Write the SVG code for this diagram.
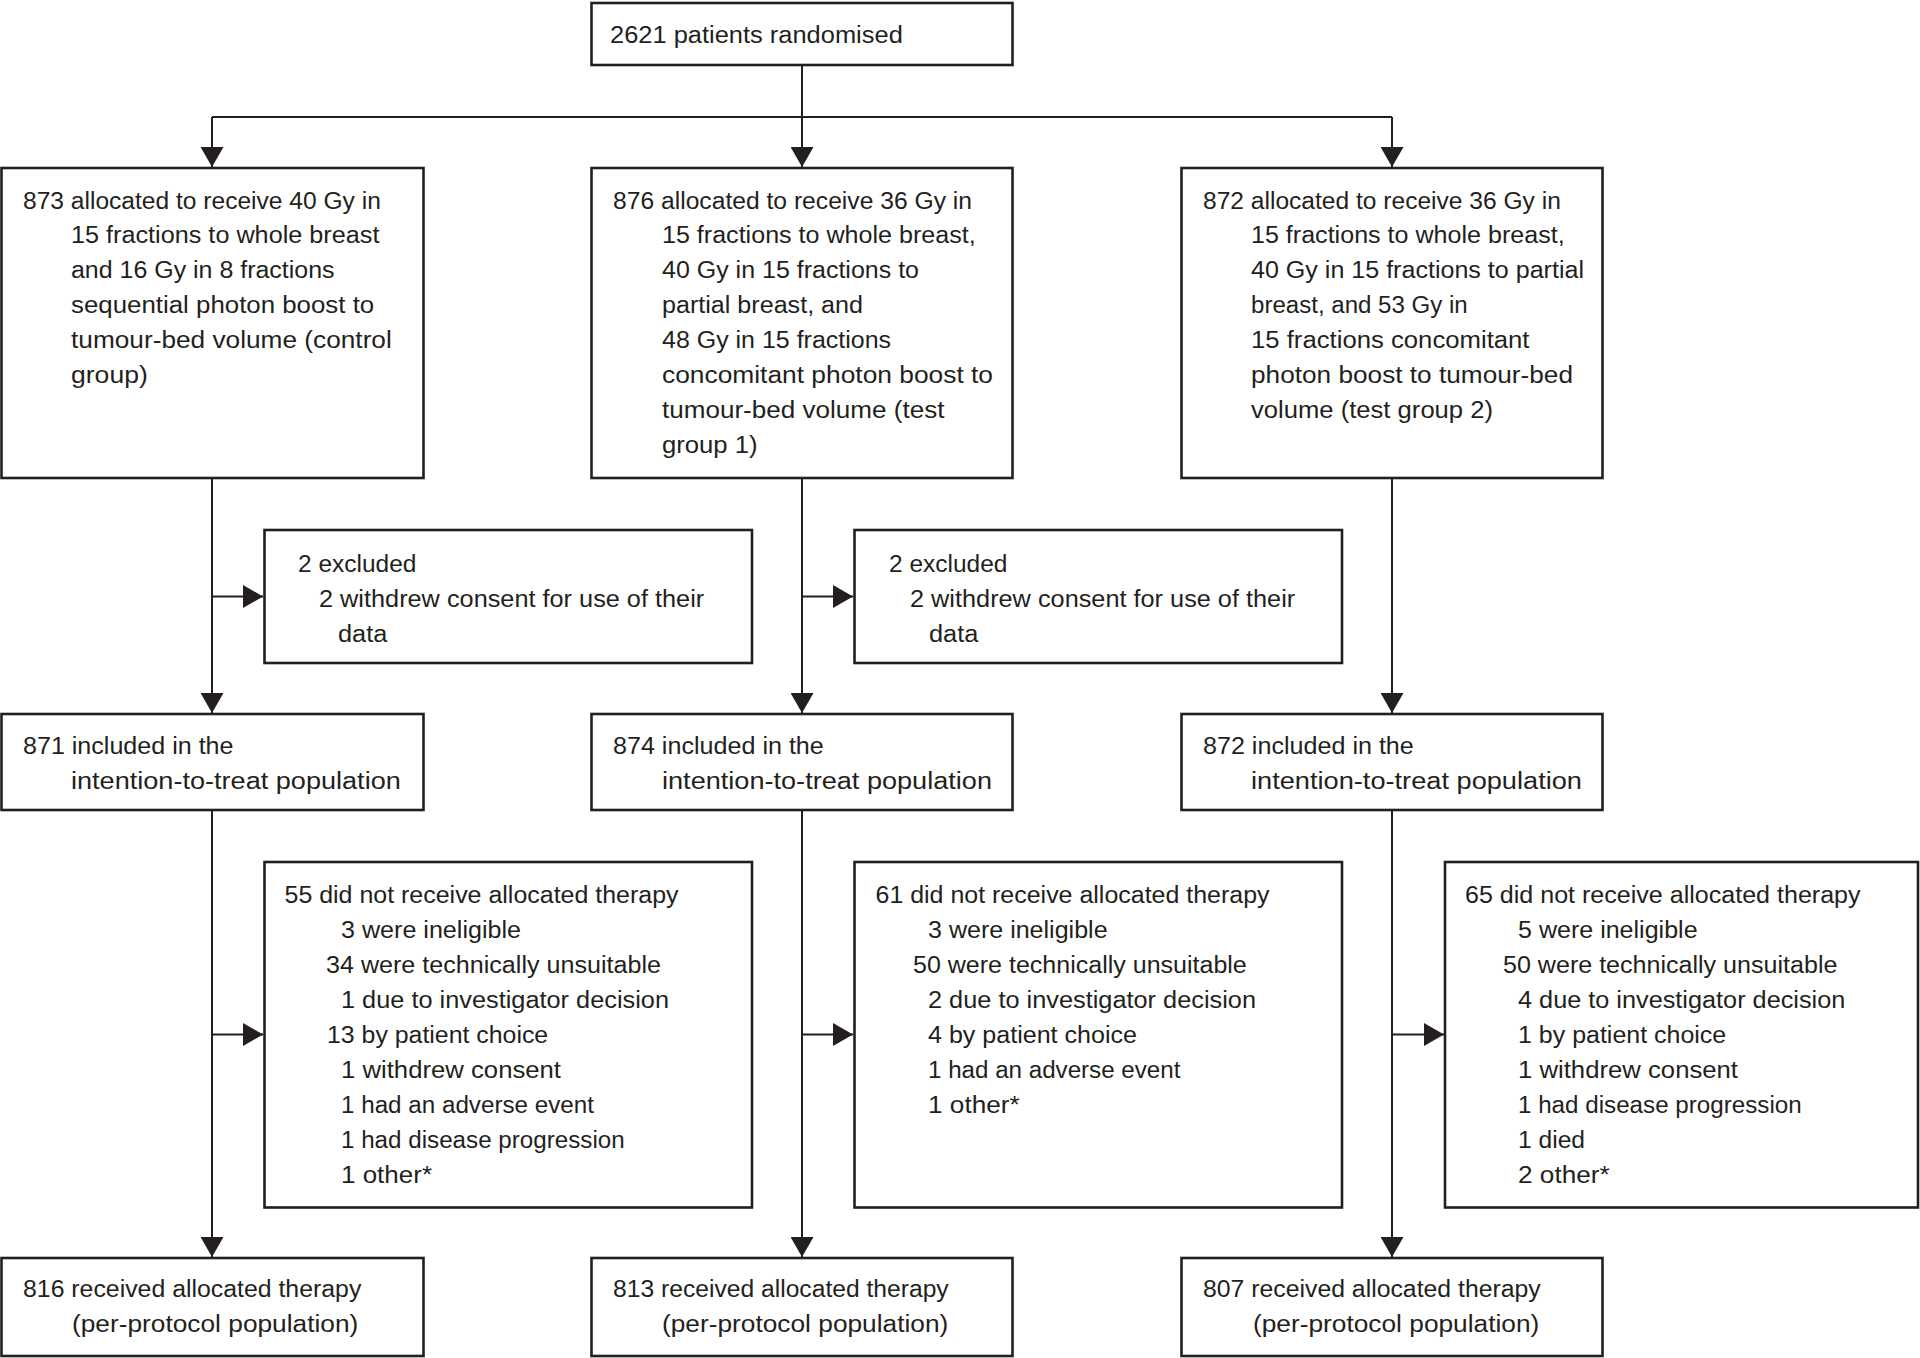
<svg xmlns="http://www.w3.org/2000/svg" width="1920" height="1358" viewBox="0 0 1920 1358">
<style>
.box{fill:#fff;stroke:#231f20;stroke-width:2.6}
.t{font-family:"Liberation Sans",Arial,sans-serif;font-size:24.7px;fill:#231f20}
.c{fill:none;stroke:#231f20;stroke-width:2}
</style>
<defs>
<marker id="ah" markerUnits="userSpaceOnUse" markerWidth="20" markerHeight="23" refX="20" refY="11.5" orient="auto">
<path d="M0,0 L20,11.5 L0,23 z" fill="#231f20"/>
</marker>
</defs>
<rect width="1920" height="1358" fill="#fff"/>
<g id="connectors">
<path class="c" d="M802,65 V117"/>
<path class="c" d="M212,117 H1392"/>
<path class="c" d="M212,117 V167" marker-end="url(#ah)"/>
<path class="c" d="M802,117 V167" marker-end="url(#ah)"/>
<path class="c" d="M1392,117 V167" marker-end="url(#ah)"/>
<path class="c" d="M212,478 V713" marker-end="url(#ah)"/>
<path class="c" d="M802,478 V713" marker-end="url(#ah)"/>
<path class="c" d="M1392,478 V713" marker-end="url(#ah)"/>
<path class="c" d="M212,596.5 H263" marker-end="url(#ah)"/>
<path class="c" d="M802,596.5 H853" marker-end="url(#ah)"/>
<path class="c" d="M212,810 V1257" marker-end="url(#ah)"/>
<path class="c" d="M802,810 V1257" marker-end="url(#ah)"/>
<path class="c" d="M1392,810 V1257" marker-end="url(#ah)"/>
<path class="c" d="M212,1034.5 H263" marker-end="url(#ah)"/>
<path class="c" d="M802,1034.5 H853" marker-end="url(#ah)"/>
<path class="c" d="M1392,1034.5 H1444" marker-end="url(#ah)"/>
</g>
<g id="randomised">
<rect class="box" x="591.5" y="3" width="421" height="62"/>
<text class="t" x="610" y="43" textLength="292.8" lengthAdjust="spacingAndGlyphs">2621 patients randomised</text>
</g>
<g id="alloc-control">
<rect class="box" x="1.5" y="168" width="422" height="310"/>
<text class="t" x="23" y="208.5" textLength="357.8" lengthAdjust="spacingAndGlyphs">873 allocated to receive 40 Gy in</text>
<text class="t" x="71" y="243.4" textLength="308.4" lengthAdjust="spacingAndGlyphs">15 fractions to whole breast</text>
<text class="t" x="71" y="278.3" textLength="263.5" lengthAdjust="spacingAndGlyphs">and 16 Gy in 8 fractions</text>
<text class="t" x="71" y="313.2" textLength="303.2" lengthAdjust="spacingAndGlyphs">sequential photon boost to</text>
<text class="t" x="71" y="348.1" textLength="320.8" lengthAdjust="spacingAndGlyphs">tumour-bed volume (control</text>
<text class="t" x="71" y="383" textLength="76.8" lengthAdjust="spacingAndGlyphs">group)</text>
</g>
<g id="alloc-test1">
<rect class="box" x="591.5" y="168" width="421" height="310"/>
<text class="t" x="613" y="208.5" textLength="359" lengthAdjust="spacingAndGlyphs">876 allocated to receive 36 Gy in</text>
<text class="t" x="662" y="243.4" textLength="313.6" lengthAdjust="spacingAndGlyphs">15 fractions to whole breast,</text>
<text class="t" x="662" y="278.3" textLength="257" lengthAdjust="spacingAndGlyphs">40 Gy in 15 fractions to</text>
<text class="t" x="662" y="313.2" textLength="201" lengthAdjust="spacingAndGlyphs">partial breast, and</text>
<text class="t" x="662" y="348.1" textLength="229" lengthAdjust="spacingAndGlyphs">48 Gy in 15 fractions</text>
<text class="t" x="662" y="383" textLength="331" lengthAdjust="spacingAndGlyphs">concomitant photon boost to</text>
<text class="t" x="662" y="417.9" textLength="282.4" lengthAdjust="spacingAndGlyphs">tumour-bed volume (test</text>
<text class="t" x="662" y="452.8" textLength="95.6" lengthAdjust="spacingAndGlyphs">group 1)</text>
</g>
<g id="alloc-test2">
<rect class="box" x="1181.5" y="168" width="421" height="310"/>
<text class="t" x="1203" y="208.5" textLength="357.8" lengthAdjust="spacingAndGlyphs">872 allocated to receive 36 Gy in</text>
<text class="t" x="1251" y="243.4" textLength="313.6" lengthAdjust="spacingAndGlyphs">15 fractions to whole breast,</text>
<text class="t" x="1251" y="278.3" textLength="333" lengthAdjust="spacingAndGlyphs">40 Gy in 15 fractions to partial</text>
<text class="t" x="1251" y="313.2" textLength="216.7" lengthAdjust="spacingAndGlyphs">breast, and 53 Gy in</text>
<text class="t" x="1251" y="348.1" textLength="278.5" lengthAdjust="spacingAndGlyphs">15 fractions concomitant</text>
<text class="t" x="1251" y="383" textLength="322" lengthAdjust="spacingAndGlyphs">photon boost to tumour-bed</text>
<text class="t" x="1251" y="417.9" textLength="242" lengthAdjust="spacingAndGlyphs">volume (test group 2)</text>
</g>
<g id="excluded-control">
<rect class="box" x="264.5" y="530" width="487.5" height="133"/>
<text class="t" x="298" y="572" textLength="118.4" lengthAdjust="spacingAndGlyphs">2 excluded</text>
<text class="t" x="319" y="607" textLength="385.2" lengthAdjust="spacingAndGlyphs">2 withdrew consent for use of their</text>
<text class="t" x="338" y="642" textLength="49.4" lengthAdjust="spacingAndGlyphs">data</text>
</g>
<g id="excluded-test1">
<rect class="box" x="854.5" y="530" width="487.5" height="133"/>
<text class="t" x="889" y="572" textLength="118.4" lengthAdjust="spacingAndGlyphs">2 excluded</text>
<text class="t" x="910" y="607" textLength="385.2" lengthAdjust="spacingAndGlyphs">2 withdrew consent for use of their</text>
<text class="t" x="929" y="642" textLength="49.4" lengthAdjust="spacingAndGlyphs">data</text>
</g>
<g id="itt-control">
<rect class="box" x="1.5" y="714" width="422" height="96"/>
<text class="t" x="23" y="754" textLength="210.5" lengthAdjust="spacingAndGlyphs">871 included in the</text>
<text class="t" x="71" y="789" textLength="329.8" lengthAdjust="spacingAndGlyphs">intention-to-treat population</text>
</g>
<g id="itt-test1">
<rect class="box" x="591.5" y="714" width="421" height="96"/>
<text class="t" x="613" y="754" textLength="210.8" lengthAdjust="spacingAndGlyphs">874 included in the</text>
<text class="t" x="662" y="789" textLength="330" lengthAdjust="spacingAndGlyphs">intention-to-treat population</text>
</g>
<g id="itt-test2">
<rect class="box" x="1181.5" y="714" width="421" height="96"/>
<text class="t" x="1203" y="754" textLength="210.8" lengthAdjust="spacingAndGlyphs">872 included in the</text>
<text class="t" x="1251" y="789" textLength="331" lengthAdjust="spacingAndGlyphs">intention-to-treat population</text>
</g>
<g id="notreceived-control">
<rect class="box" x="264.5" y="862" width="487.5" height="345.5"/>
<text class="t" x="284.5" y="903.3" textLength="394" lengthAdjust="spacingAndGlyphs">55 did not receive allocated therapy</text>
<text class="t" x="341" y="938.2" textLength="180" lengthAdjust="spacingAndGlyphs">3 were ineligible</text>
<text class="t" x="326" y="973.1" textLength="335" lengthAdjust="spacingAndGlyphs">34 were technically unsuitable</text>
<text class="t" x="341" y="1008" textLength="328" lengthAdjust="spacingAndGlyphs">1 due to investigator decision</text>
<text class="t" x="327" y="1042.9" textLength="221.2" lengthAdjust="spacingAndGlyphs">13 by patient choice</text>
<text class="t" x="341" y="1077.8" textLength="220" lengthAdjust="spacingAndGlyphs">1 withdrew consent</text>
<text class="t" x="341" y="1112.7" textLength="253" lengthAdjust="spacingAndGlyphs">1 had an adverse event</text>
<text class="t" x="341" y="1147.6" textLength="283.7" lengthAdjust="spacingAndGlyphs">1 had disease progression</text>
<text class="t" x="341" y="1182.5" textLength="91" lengthAdjust="spacingAndGlyphs">1 other*</text>
</g>
<g id="notreceived-test1">
<rect class="box" x="854.5" y="862" width="487.5" height="345.5"/>
<text class="t" x="875.5" y="903.3" textLength="394" lengthAdjust="spacingAndGlyphs">61 did not receive allocated therapy</text>
<text class="t" x="928" y="938.2" textLength="179.6" lengthAdjust="spacingAndGlyphs">3 were ineligible</text>
<text class="t" x="913" y="973.1" textLength="333.8" lengthAdjust="spacingAndGlyphs">50 were technically unsuitable</text>
<text class="t" x="928" y="1008" textLength="328" lengthAdjust="spacingAndGlyphs">2 due to investigator decision</text>
<text class="t" x="928" y="1042.9" textLength="209" lengthAdjust="spacingAndGlyphs">4 by patient choice</text>
<text class="t" x="928" y="1077.8" textLength="252.4" lengthAdjust="spacingAndGlyphs">1 had an adverse event</text>
<text class="t" x="928" y="1112.7" textLength="91.7" lengthAdjust="spacingAndGlyphs">1 other*</text>
</g>
<g id="notreceived-test2">
<rect class="box" x="1445" y="862" width="473" height="345.5"/>
<text class="t" x="1465" y="903.3" textLength="395.6" lengthAdjust="spacingAndGlyphs">65 did not receive allocated therapy</text>
<text class="t" x="1518" y="938.2" textLength="179.6" lengthAdjust="spacingAndGlyphs">5 were ineligible</text>
<text class="t" x="1503" y="973.1" textLength="334.4" lengthAdjust="spacingAndGlyphs">50 were technically unsuitable</text>
<text class="t" x="1518" y="1008" textLength="327.3" lengthAdjust="spacingAndGlyphs">4 due to investigator decision</text>
<text class="t" x="1518" y="1042.9" textLength="208.2" lengthAdjust="spacingAndGlyphs">1 by patient choice</text>
<text class="t" x="1518" y="1077.8" textLength="220" lengthAdjust="spacingAndGlyphs">1 withdrew consent</text>
<text class="t" x="1518" y="1112.7" textLength="283.7" lengthAdjust="spacingAndGlyphs">1 had disease progression</text>
<text class="t" x="1518" y="1147.6" textLength="67" lengthAdjust="spacingAndGlyphs">1 died</text>
<text class="t" x="1518" y="1182.5" textLength="91.7" lengthAdjust="spacingAndGlyphs">2 other*</text>
</g>
<g id="received-control">
<rect class="box" x="1.5" y="1258" width="422" height="98"/>
<text class="t" x="23" y="1297" textLength="338.3" lengthAdjust="spacingAndGlyphs">816 received allocated therapy</text>
<text class="t" x="72" y="1332" textLength="286.3" lengthAdjust="spacingAndGlyphs">(per-protocol population)</text>
</g>
<g id="received-test1">
<rect class="box" x="591.5" y="1258" width="421" height="98"/>
<text class="t" x="613" y="1297" textLength="335.7" lengthAdjust="spacingAndGlyphs">813 received allocated therapy</text>
<text class="t" x="662" y="1332" textLength="286.3" lengthAdjust="spacingAndGlyphs">(per-protocol population)</text>
</g>
<g id="received-test2">
<rect class="box" x="1181.5" y="1258" width="421" height="98"/>
<text class="t" x="1203" y="1297" textLength="337.7" lengthAdjust="spacingAndGlyphs">807 received allocated therapy</text>
<text class="t" x="1253" y="1332" textLength="286.3" lengthAdjust="spacingAndGlyphs">(per-protocol population)</text>
</g>
</svg>
